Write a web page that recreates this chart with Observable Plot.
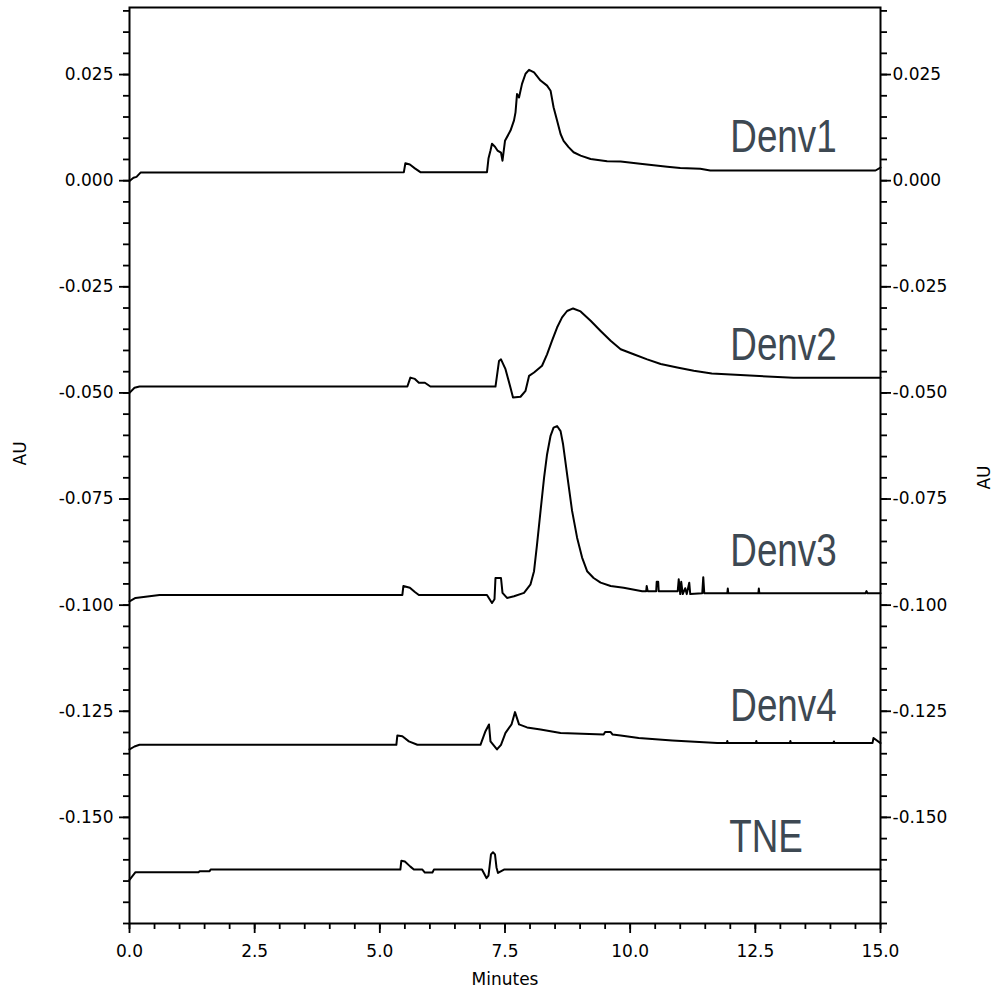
<!DOCTYPE html>
<html><head><meta charset="utf-8">
<script src="https://cdn.jsdelivr.net/npm/d3@7"></script>
<script src="https://cdn.jsdelivr.net/npm/@observablehq/plot@0.6"></script>
<style>body{margin:0;background:#fff}</style>
</head><body><div id="chart"></div>
<script>
// ---- Data (time in minutes, absorbance in AU) ----
const denv1T = [0,0.08,0.14,0.22,5.48,5.51,5.6,5.7,5.81,7.14,7.17,7.21,7.24,7.3,7.35,7.42,7.45,7.5,7.61,7.68,7.71,7.74,7.78,7.84,7.91,7.98,8.08,8.21,8.34,8.41,8.47,8.54,8.61,8.67,8.77,8.87,9.01,9.21,9.54,9.81,10.2,10.74,11.0,11.4,11.6,14.9,15.0];
const denv1V = [-0.0001,0.0007,0.0009,0.0019,0.0020,0.0041,0.0038,0.0029,0.0020,0.0020,0.0052,0.0071,0.0087,0.0080,0.0071,0.0066,0.0047,0.0094,0.0118,0.0142,0.0161,0.0204,0.0196,0.0228,0.0252,0.0261,0.0255,0.0236,0.0224,0.0212,0.0173,0.0142,0.0110,0.0094,0.0079,0.0067,0.0059,0.0051,0.0046,0.0045,0.0040,0.0033,0.0030,0.0028,0.0024,0.0024,0.0031];

const denv2T = [0,0.1,0.2,5.55,5.61,5.7,5.78,5.9,6.01,7.31,7.38,7.42,7.51,7.61,7.66,7.81,7.91,7.98,8.08,8.24,8.34,8.44,8.54,8.64,8.74,8.86,9.01,9.21,9.41,9.61,9.81,10.07,10.34,10.61,10.94,11.27,11.63,12.2,13.26,15.0];
const denv2V = [-0.0500,-0.0488,-0.0485,-0.0485,-0.0464,-0.0467,-0.0476,-0.0476,-0.0485,-0.0485,-0.0425,-0.0421,-0.0444,-0.0488,-0.0511,-0.0509,-0.0495,-0.0460,-0.0452,-0.0436,-0.0409,-0.0377,-0.0346,-0.0322,-0.0307,-0.0301,-0.0308,-0.0330,-0.0354,-0.0377,-0.0397,-0.0409,-0.0421,-0.0432,-0.0440,-0.0448,-0.0454,-0.0458,-0.0464,-0.0464];

const denv3T = [0,0.12,0.4,0.6,5.45,5.47,5.6,5.7,5.78,7.14,7.24,7.29,7.31,7.42,7.45,7.54,7.68,7.88,8.01,8.08,8.14,8.21,8.28,8.34,8.41,8.47,8.54,8.61,8.66,8.75,8.84,8.94,9.04,9.14,9.27,9.41,9.61,9.87,10.24,10.32,10.33,10.35,10.52,10.53,10.56,10.57,10.95,10.97,11.0,11.02,11.05,11.1,11.13,11.18,11.2,11.44,11.46,11.48,11.94,11.95,11.96,12.56,12.57,12.58,14.7,14.72,14.74,15.0];
const denv3V = [-0.0991,-0.0983,-0.0979,-0.0976,-0.0976,-0.0955,-0.0959,-0.0969,-0.0976,-0.0976,-0.0995,-0.0986,-0.0936,-0.0936,-0.0971,-0.0983,-0.0979,-0.0971,-0.0951,-0.0920,-0.0857,-0.0778,-0.0700,-0.0645,-0.0601,-0.0582,-0.0578,-0.0590,-0.0621,-0.0700,-0.0778,-0.0841,-0.0888,-0.0920,-0.0936,-0.0947,-0.0955,-0.0959,-0.0967,-0.0967,-0.0955,-0.0967,-0.0967,-0.0945,-0.0945,-0.0967,-0.0967,-0.0939,-0.0974,-0.0945,-0.0974,-0.0960,-0.0974,-0.0947,-0.0974,-0.0972,-0.0934,-0.0972,-0.0972,-0.0961,-0.0972,-0.0972,-0.0961,-0.0972,-0.0972,-0.0967,-0.0972,-0.0972];

const denv4T = [0,0.1,0.2,5.33,5.35,5.45,5.58,5.75,7.01,7.11,7.18,7.21,7.34,7.42,7.51,7.63,7.70,7.78,7.94,8.21,8.61,9.47,9.5,9.61,9.65,9.81,10.17,10.84,11.74,11.93,11.94,11.95,12.51,12.52,12.53,13.19,13.2,13.21,14.06,14.07,14.08,14.84,14.86,15.0];
const denv4V = [-0.1340,-0.1333,-0.1329,-0.1329,-0.1307,-0.1309,-0.1321,-0.1329,-0.1329,-0.1297,-0.1281,-0.1321,-0.1340,-0.1329,-0.1301,-0.1281,-0.1252,-0.1281,-0.1288,-0.1293,-0.1301,-0.1305,-0.1299,-0.1299,-0.1305,-0.1307,-0.1313,-0.1319,-0.1325,-0.1325,-0.1320,-0.1325,-0.1325,-0.1320,-0.1325,-0.1325,-0.1320,-0.1325,-0.1325,-0.1321,-0.1325,-0.1325,-0.1313,-0.1325];

const tneT = [0,0.12,1.38,1.4,1.6,1.62,5.41,5.43,5.5,5.61,5.68,5.85,5.9,6.05,6.08,7.04,7.13,7.17,7.19,7.22,7.26,7.3,7.33,7.36,7.48,15.0];
const tneV = [-0.1647,-0.1629,-0.1629,-0.1627,-0.1627,-0.1623,-0.1623,-0.1602,-0.1604,-0.1616,-0.1623,-0.1623,-0.1630,-0.1630,-0.1623,-0.1623,-0.1643,-0.1637,-0.1618,-0.1587,-0.1582,-0.1587,-0.1618,-0.1631,-0.1623,-0.1623];

const seriesNames = ["Denv1", "Denv2", "Denv3", "Denv4", "TNE"];
const labelX = [12.0, 12.0, 12.0, 12.0, 11.98];
const labelY = [0.0067, -0.0422, -0.0908, -0.1274, -0.1582];

const xMajorTicks = [0, 2.5, 5, 7.5, 10, 12.5, 15];
const xMinorTicks = [0,0.5,1,1.5,2,2.5,3,3.5,4,4.5,5,5.5,6,6.5,7,7.5,8,8.5,9,9.5,10,10.5,11,11.5,12,12.5,13,13.5,14,14.5,15];
const yMajorTicks = [0.025, 0, -0.025, -0.05, -0.075, -0.1, -0.125, -0.15];
const yMinorTicks = [0.04,0.035,0.03,0.025,0.02,0.015,0.01,0.005,0,-0.005,-0.01,-0.015,-0.02,-0.025,-0.03,-0.035,-0.04,-0.045,-0.05,-0.055,-0.06,-0.065,-0.07,-0.075,-0.08,-0.085,-0.09,-0.095,-0.1,-0.105,-0.11,-0.115,-0.12,-0.125,-0.13,-0.135,-0.14,-0.145,-0.15,-0.155,-0.16,-0.165,-0.17,-0.175];

// ---- Build table ----
const traces = [[denv1T, denv1V], [denv2T, denv2V], [denv3T, denv3V], [denv4T, denv4V], [tneT, tneV]];
const rows = [];
traces.forEach(([T, V], k) => T.forEach((t, i) => rows.push({series: seriesNames[k], t, v: V[i]})));

const tickFont = {fontFamily: "DejaVu Sans", fontSize: 17};

const chart = Plot.plot({
  width: 994,
  height: 990,
  marginLeft: 129,
  marginRight: 114,
  marginTop: 7,
  marginBottom: 67,
  x: {domain: [0, 15], label: null},
  y: {domain: [-0.175, 0.0408], label: null},
  style: {fontFamily: "DejaVu Sans", fontSize: "17px", color: "#000", background: "#fff"},
  marks: [
    Plot.axisX({ticks: xMinorTicks, tickSize: 6, tickFormat: () => "", label: null, strokeWidth: 1.8}),
    Plot.axisX({ticks: xMajorTicks, tickSize: 10, tickPadding: 11, tickFormat: d => d.toFixed(1), label: null, strokeWidth: 1.8, ...tickFont}),
    Plot.axisY({anchor: "left", ticks: yMinorTicks, tickSize: 6, tickFormat: () => "", label: null, strokeWidth: 1.8}),
    Plot.axisY({anchor: "left", ticks: yMajorTicks, tickSize: 10, tickPadding: 6, tickFormat: d => d.toFixed(3), label: null, strokeWidth: 1.8, ...tickFont}),
    Plot.axisY({anchor: "right", ticks: yMinorTicks, tickSize: 6, tickFormat: () => "", label: null, strokeWidth: 1.8}),
    Plot.axisY({anchor: "right", ticks: yMajorTicks, tickSize: 10, tickPadding: 2, tickFormat: d => d.toFixed(3), label: null, strokeWidth: 1.8, ...tickFont}),
    Plot.frame({stroke: "#000", strokeWidth: 2}),
    Plot.line(rows, {x: "t", y: "v", z: "series", stroke: "#000", strokeWidth: 2}),
    Plot.text(seriesNames, {
      x: (d, i) => labelX[i], y: (d, i) => labelY[i], text: d => d,
      textAnchor: "start", lineAnchor: "bottom",
      fontFamily: "Liberation Sans, Arial, sans-serif", fontSize: 46, fill: "#3d4852",
      className: "series-label"
    }),
    Plot.text(["Minutes"], {frameAnchor: "bottom", dy: 61, lineAnchor: "bottom", ...tickFont}),
    Plot.text(["AU"], {frameAnchor: "left", dx: -109, rotate: -90, ...tickFont}),
    Plot.text(["AU"], {frameAnchor: "right", dx: 104, rotate: -90, ...tickFont})
  ]
});
document.getElementById("chart").appendChild(chart);
// condense the series labels (narrow face like the reference)
d3.select(chart).selectAll("g.series-label text, .series-label text").each(function () {
  const w = this.getComputedTextLength();
  this.setAttribute("textLength", (w * 0.8).toFixed(1));
  this.setAttribute("lengthAdjust", "spacingAndGlyphs");
});
</script>
</body></html>
